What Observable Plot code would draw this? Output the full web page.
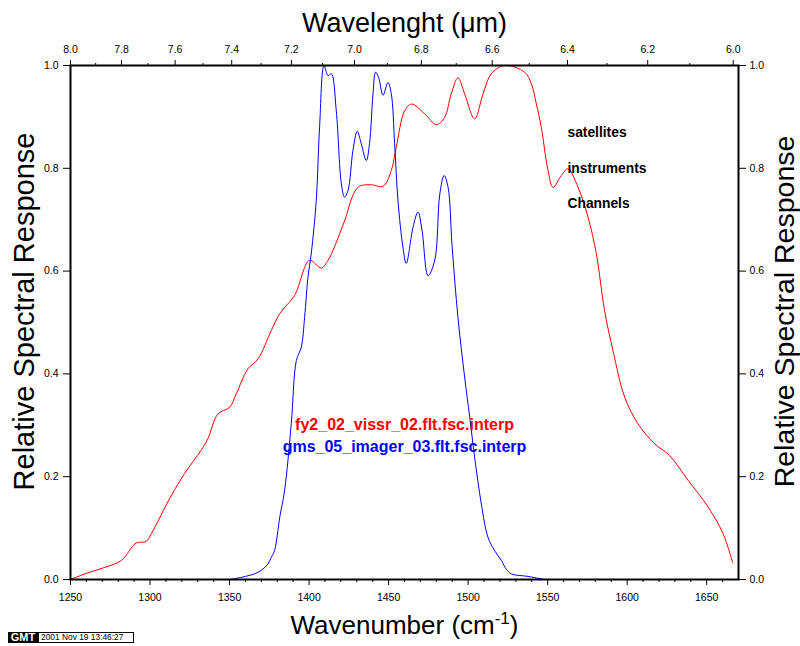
<!DOCTYPE html>
<html>
<head>
<meta charset="utf-8">
<script src="https://cdn.jsdelivr.net/npm/d3@7"></script>
<script src="https://cdn.jsdelivr.net/npm/@observablehq/plot@0.6"></script>
<style>
  html, body { margin: 0; padding: 0; background: #fff; }
  #wrap { position: relative; width: 800px; height: 646px; font-family: "Liberation Sans", Arial, Helvetica, sans-serif; }
  #gmt { position: absolute; left: 8px; top: 632px; height: 11px; display: flex; }
  #gmt .logo { background: #000; color: #fff; font-weight: bold; font-size: 11px; line-height: 11px; width: 30px; text-align: center; }
  #gmt .stamp { border: 1px solid #000; box-sizing: border-box; height: 11px; width: 96px; font-size: 8.4px; line-height: 9px; padding-left: 2px; }
</style>
</head>
<body>
<div id="wrap"></div>
<script>
// ---- Data ----
// fy2_02_vissr_02 (red): wavenumber (cm-1) and relative response
const redWavenumber = [1250, 1260, 1270, 1281.9, 1291.3, 1297.6, 1300.8, 1313.3, 1321.7, 1332, 1336.4, 1342.7, 1350, 1354.2, 1361.6, 1367.9, 1376.2, 1381.5, 1390.9, 1400.3, 1407.7, 1411.9, 1415, 1422, 1430.7, 1439.1, 1446.5, 1451.7, 1454.8, 1460.1, 1464.3, 1472.7, 1480, 1485.2, 1489.4, 1493.6, 1497.8, 1504.1, 1509.4, 1514.6, 1523, 1535.5, 1539.8, 1542.9, 1546, 1550, 1553.4, 1558.6, 1562.8, 1569.1, 1575.4, 1580.6, 1585.8, 1591.1, 1598.4, 1606.8, 1617.3, 1626.7, 1638.3, 1650.9, 1660.3, 1666.4];
const redResponse   = [0, 0.012, 0.022, 0.037, 0.071, 0.074, 0.089, 0.163, 0.206, 0.251, 0.274, 0.322, 0.335, 0.361, 0.410, 0.429, 0.484, 0.517, 0.553, 0.621, 0.606, 0.621, 0.640, 0.695, 0.763, 0.768, 0.765, 0.796, 0.841, 0.912, 0.925, 0.906, 0.885, 0.899, 0.945, 0.976, 0.945, 0.896, 0.945, 0.984, 1.0, 0.987, 0.964, 0.925, 0.880, 0.800, 0.763, 0.786, 0.799, 0.763, 0.705, 0.634, 0.523, 0.445, 0.355, 0.303, 0.264, 0.241, 0.193, 0.141, 0.089, 0.032];

// gms_05_imager_03 (blue)
const blueWavenumber = [1350, 1354, 1360, 1365.7, 1370, 1374.1, 1376.2, 1378.3, 1380.4, 1381.5, 1384.6, 1388.8, 1392, 1395.1, 1397.2, 1399.3, 1401.4, 1404.5, 1406.6, 1409.4, 1411.9, 1414, 1417.1, 1420.3, 1422.3, 1424.5, 1427.6, 1430.3, 1432.8, 1436, 1438, 1440.2, 1441.8, 1443.7, 1446.5, 1449.6, 1451.7, 1453.8, 1455.9, 1459, 1461.1, 1465.4, 1468.5, 1471, 1474.8, 1479, 1482.2, 1484.9, 1487.4, 1489.9, 1493.6, 1497.8, 1501, 1504.1, 1508.3, 1512.5, 1516.7, 1520.9, 1524, 1527.2, 1537.7, 1548];
const blueResponse   = [0, 0.002, 0.006, 0.011, 0.018, 0.030, 0.043, 0.056, 0.095, 0.120, 0.173, 0.303, 0.426, 0.452, 0.510, 0.588, 0.635, 0.737, 0.880, 1.0, 0.980, 0.984, 0.912, 0.770, 0.744, 0.757, 0.835, 0.872, 0.848, 0.815, 0.848, 0.945, 0.987, 0.977, 0.942, 0.967, 0.945, 0.848, 0.737, 0.647, 0.615, 0.686, 0.715, 0.680, 0.591, 0.621, 0.750, 0.786, 0.763, 0.650, 0.510, 0.394, 0.316, 0.238, 0.147, 0.082, 0.056, 0.037, 0.020, 0.011, 0.006, 0];

// Tick values
const wavenumberMajor = [1250, 1300, 1350, 1400, 1450, 1500, 1550, 1600, 1650];
const wavenumberMinor = [1260, 1270, 1280, 1290, 1310, 1320, 1330, 1340, 1360, 1370, 1380, 1390, 1410, 1420, 1430, 1440, 1460, 1470, 1480, 1490, 1510, 1520, 1530, 1540, 1560, 1570, 1580, 1590, 1610, 1620, 1630, 1640, 1660];
const wavelengthMajor = [8.0, 7.8, 7.6, 7.4, 7.2, 7.0, 6.8, 6.6, 6.4, 6.2, 6.0];
const wavelengthMinor = [7.9, 7.7, 7.5, 7.3, 7.1, 6.9, 6.7, 6.5, 6.3, 6.1];
const responseTicks = [0, 0.2, 0.4, 0.6, 0.8, 1.0];

// Texts
const titleText = "Wavelenght (μm)";
const xLabelText = "Wavenumber (cm-1)";
const yLabelText = "Relative Spectral Response";
const redName = "fy2_02_vissr_02.flt.fsc.interp";
const blueName = "gms_05_imager_03.flt.fsc.interp";
const legendWords = ["satellites", "instruments", "Channels"];

// ---- Build tables ----
const red = redWavenumber.map((w, i) => ({wn: w, r: redResponse[i]}));
const blue = blueWavenumber.map((w, i) => ({wn: w, r: blueResponse[i]}));

const fmt1 = d3.format(".1f");
const tickFont = 10.5;

const chart = Plot.plot({
  width: 800,
  height: 646,
  marginTop: 65,
  marginLeft: 70,
  marginRight: 62,
  marginBottom: 67,
  style: {fontFamily: "'Liberation Sans', Arial, Helvetica, sans-serif", background: "#fff", color: "#000", overflow: "visible"},
  x: {domain: [1250, 1670]},
  y: {domain: [0, 1]},
  marks: [
    Plot.line(red, {x: "wn", y: "r", stroke: "#ff0000", strokeWidth: 1, curve: "catmull-rom"}),
    Plot.line(blue, {x: "wn", y: "r", stroke: "#0000ff", strokeWidth: 1, curve: "catmull-rom"}),
    Plot.frame({stroke: "#000", strokeWidth: 2}),
    // bottom axis
    Plot.axisX(wavenumberMajor, {anchor: "bottom", tickSize: 6, tickPadding: 8, fontSize: tickFont, tickFormat: d => String(d), label: null}),
    Plot.axisX(wavenumberMinor, {anchor: "bottom", tickSize: 3, tickFormat: () => "", label: null}),
    // top axis (wavelength)
    Plot.axisX(wavelengthMajor.map(l => 10000 / l), {anchor: "top", tickSize: 6, tickPadding: 7, fontSize: tickFont, tickFormat: d => (10000 / d).toFixed(1), label: null}),
    Plot.axisX(wavelengthMinor.map(l => 10000 / l), {anchor: "top", tickSize: 3, tickFormat: () => "", label: null}),
    // y axes
    Plot.axisY(responseTicks, {anchor: "left", tickSize: 7, tickPadding: 5, fontSize: tickFont, tickFormat: fmt1, label: null}),
    Plot.axisY(responseTicks, {anchor: "right", tickSize: 7, tickPadding: 4, fontSize: tickFont, tickFormat: fmt1, label: null}),
    // titles
    Plot.text([titleText], {text: d => d, frameAnchor: "top", textAnchor: "middle", lineAnchor: "bottom", dy: -34, fontSize: 27}),
    Plot.text([xLabelText], {text: d => d, frameAnchor: "bottom", textAnchor: "middle", lineAnchor: "bottom", dy: 54, fontSize: 26}),
    Plot.text([yLabelText], {text: d => d, frameAnchor: "left", textAnchor: "middle", rotate: -90, lineAnchor: "bottom", dx: -36.5, dy: -11, fontSize: 29}),
    Plot.text([yLabelText], {text: d => d, frameAnchor: "right", textAnchor: "middle", rotate: -90, lineAnchor: "bottom", dx: 55, dy: -11, fontSize: 28.5}),
    // series names
    Plot.text([redName], {text: d => d, frameAnchor: "middle", lineAnchor: "middle", dy: 102, fill: "#ff0000", fontWeight: "bold", fontSize: 16}),
    Plot.text([blueName], {text: d => d, frameAnchor: "middle", lineAnchor: "middle", dy: 124.7, fill: "#0000ff", fontWeight: "bold", fontSize: 16}),
    // legend words
    Plot.text([legendWords[0]], {text: d => d, frameAnchor: "top-left", textAnchor: "start", lineAnchor: "middle", dx: 497, dy: 66.7, fontSize: 13.8, fontWeight: "bold"}),
    Plot.text([legendWords[1]], {text: d => d, frameAnchor: "top-left", textAnchor: "start", lineAnchor: "middle", dx: 497, dy: 103.3, fontSize: 13.8, fontWeight: "bold"}),
    Plot.text([legendWords[2]], {text: d => d, frameAnchor: "top-left", textAnchor: "start", lineAnchor: "middle", dx: 497, dy: 137.7, fontSize: 13.8, fontWeight: "bold"})
  ]
});

// superscript for cm-1
d3.select(chart).selectAll("text").filter(function () { return this.textContent === xLabelText; }).each(function () {
  const t = d3.select(this);
  t.text(null);
  t.append("tspan").text("Wavenumber (cm");
  t.append("tspan").attr("font-size", "17px").attr("dy", "-10").text("-1");
  t.append("tspan").attr("dy", "10").text(")");
});

const wrap = document.getElementById("wrap");
wrap.appendChild(chart);
const gmt = document.createElement("div");
gmt.id = "gmt";
gmt.innerHTML = '<span class="logo">GMT</span><span class="stamp">2001 Nov 19 13:46:27</span>';
wrap.appendChild(gmt);
</script>
</body>
</html>
